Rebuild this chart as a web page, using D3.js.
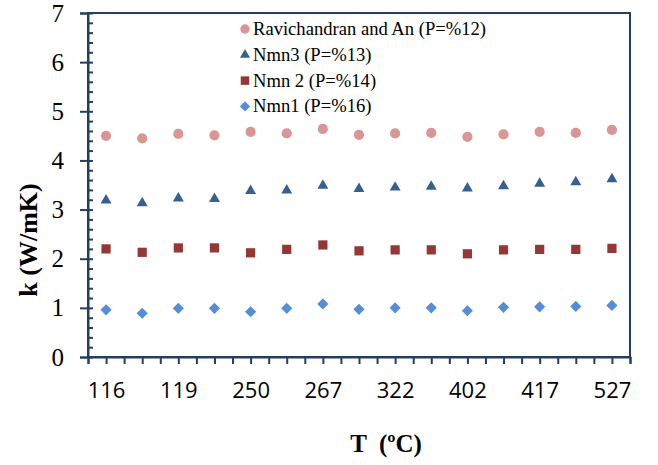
<!DOCTYPE html>
<html>
<head>
<meta charset="utf-8">
<script src="https://cdn.jsdelivr.net/npm/d3@7"></script>
<style>
  body { margin: 0; background: #fff; }
  svg { display: block; }
</style>
</head>
<body>
<div id="chart"></div>
<script>
const WIDTH = 658
const HEIGHT = 465

// 15 temperature points, only every other one is labelled on the axis
const nPoints = 15
const xLabels = ['116', '119', '250', '267', '322', '402', '417', '527']

const ravichandran = [4.50, 4.45, 4.54, 4.51, 4.58, 4.55, 4.64, 4.52, 4.55, 4.56, 4.48, 4.53, 4.58, 4.56, 4.62]
const nmn3 = [3.19, 3.13, 3.23, 3.22, 3.38, 3.39, 3.49, 3.42, 3.45, 3.47, 3.43, 3.48, 3.53, 3.56, 3.62]
const nmn2 = [2.20, 2.13, 2.22, 2.22, 2.12, 2.19, 2.28, 2.16, 2.18, 2.18, 2.10, 2.18, 2.19, 2.19, 2.21]
const nmn1 = [0.96, 0.89, 0.99, 0.99, 0.92, 0.99, 1.08, 0.97, 1.00, 1.00, 0.94, 1.01, 1.02, 1.03, 1.05]

const seriesNames = ['Ravichandran and An (P=%12)', 'Nmn3 (P=%13)', 'Nmn 2 (P=%14)', 'Nmn1 (P=%16)']
const yTicks = [0, 1, 2, 3, 4, 5, 6, 7]

const SERIF = '"Liberation Serif", "Times New Roman", serif'

// diamond = square turned 45 degrees
const diamond = {
  draw(ctx, size) {
    const r = Math.sqrt(size / 2)
    ctx.moveTo(0, -r); ctx.lineTo(r, 0); ctx.lineTo(0, r); ctx.lineTo(-r, 0); ctx.closePath()
  }
}

const series = [
  { name: seriesNames[0], values: ravichandran, symbol: d3.symbolCircle, color: '#d99694', size: 82 },
  { name: seriesNames[1], values: nmn3, symbol: d3.symbolTriangle, color: '#376092', size: 52 },
  { name: seriesNames[2], values: nmn2, symbol: d3.symbolSquare, color: '#953735', size: 85 },
  { name: seriesNames[3], values: nmn1, symbol: diamond, color: '#558ed5', size: 62 }
]

const AXIS = '#243f60'
const margin = { top: 13, right: 28, bottom: 108, left: 88 }
const w = WIDTH - margin.left - margin.right
const h = HEIGHT - margin.top - margin.bottom

const svg = d3.select('#chart').append('svg')
  .attr('width', WIDTH)
  .attr('height', HEIGHT)

const g = svg.append('g').attr('transform', `translate(${margin.left},${margin.top})`)

const x = d3.scaleLinear().domain([0, nPoints]).range([0, w])
const y = d3.scaleLinear().domain([0, 7]).range([h, 0])

// plot border
g.append('rect')
  .attr('width', w).attr('height', h)
  .attr('fill', 'none').attr('stroke', AXIS).attr('stroke-width', 2)

// y axis: major ticks cross the line, minor ticks inside
const yMajor = g.append('g')
  .call(d3.axisLeft(y).tickValues(yTicks).tickSize(8).tickPadding(16).tickFormat(d3.format('d')))
yMajor.select('.domain').attr('stroke', AXIS).attr('stroke-width', 2)
yMajor.selectAll('.tick line').attr('stroke', AXIS).attr('stroke-width', 2)
yMajor.selectAll('.tick text')
  .style('font-family', SERIF)
  .style('font-size', '25px').attr('fill', '#000')

const yMinor = g.append('g').call(d3.axisRight(y).tickValues(d3.range(0, 7.01, 0.2)).tickSize(5).tickFormat(''))
yMinor.select('.domain').remove()
yMinor.selectAll('.tick line').attr('stroke', AXIS).attr('stroke-width', 2)

// x axis: ticks at category edges and centres, labels on every other point
const xAxis = g.append('g').attr('transform', `translate(0,${h})`)
  .call(d3.axisBottom(x).tickValues(d3.range(0, nPoints + 0.01, 0.5)).tickSize(7)
    .tickFormat(d => {
      const i = d - 0.5
      return Number.isInteger(i) && i % 2 === 0 ? xLabels[i / 2] : ''
    }))
xAxis.select('.domain').attr('stroke', AXIS).attr('stroke-width', 2)
xAxis.selectAll('.tick line').attr('stroke', AXIS).attr('stroke-width', 2)
xAxis.selectAll('.tick text')
  .style('font-family', '"Open Sans", "Liberation Sans", sans-serif')
  .style('font-size', '22px').attr('fill', '#000')
  .attr('y', 25)

// axis titles
svg.append('text')
  .attr('transform', 'translate(37,240) rotate(-90)')
  .attr('text-anchor', 'middle')
  .style('font-family', SERIF)
  .style('font-weight', 'bold').style('font-size', '26px')
  .text('k (W/mK)')

svg.append('text')
  .attr('x', 386).attr('y', 452)
  .attr('text-anchor', 'middle')
  .style('font-family', SERIF)
  .style('font-weight', 'bold').style('font-size', '25px')
  .style('white-space', 'pre')
  .text('T  (ºC)')

// markers
series.forEach(s => {
  g.append('g').selectAll('path')
    .data(s.values)
    .join('path')
    .attr('transform', (d, i) => `translate(${x(i + 0.5)},${y(d)})`)
    .attr('d', d3.symbol(s.symbol, s.size))
    .attr('fill', s.color)
})

// legend
const legend = svg.append('g').attr('transform', 'translate(245,29)')
const row = legend.selectAll('g')
  .data(series)
  .join('g')
  .attr('transform', (d, i) => `translate(0,${i * 25.8})`)
row.append('path')
  .attr('d', d => d3.symbol(d.symbol, d.size * 0.85)())
  .attr('fill', d => d.color)
row.append('text')
  .attr('x', 8).attr('y', 6)
  .style('font-family', SERIF)
  .style('font-size', '18.6px')
  .text(d => d.name)
</script>
</body>
</html>
